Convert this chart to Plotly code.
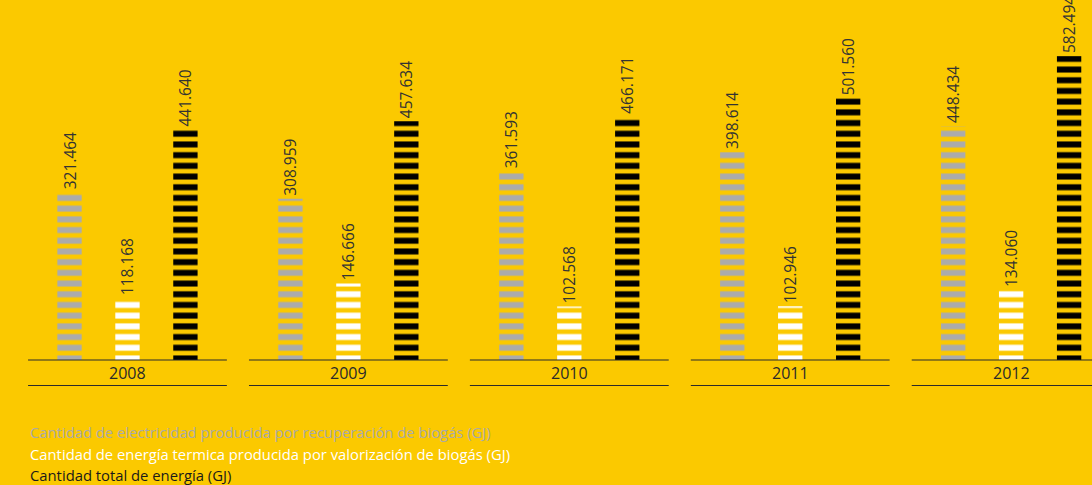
import plotly.graph_objects as go

years = ["2008", "2009", "2010", "2011", "2012"]
electricidad = [321464, 308959, 361593, 398614, 448434]
termica = [118168, 146666, 102568, 102946, 134060]
total = [441640, 457634, 466171, 501560, 582494]

legend_labels = [
    "Cantidad de electricidad producida por recuperación de biogás (GJ)",
    "Cantidad de energía termica producida por valorización de biogás (GJ)",
    "Cantidad total de energía (GJ)",
]

BG = "#FBC900"
W, H = 1092, 485
PLOT_H = 360

series = [
    (electricidad, "#ABABAB", legend_labels[0]),
    (termica, "#FFFFFF", legend_labels[1]),
    (total, "#000000", legend_labels[2]),
]

fig = go.Figure()
for vals, col, name in series:
    fig.add_trace(go.Bar(
        x=years, y=vals, name=name,
        marker=dict(
            color=BG,
            line=dict(width=0),
            pattern=dict(shape="-", fgcolor=col, bgcolor=BG, size=10.7,
                         solidity=0.56, fillmode="replace"),
        ),
        texttemplate="%{y:,.0f}",
        textposition="outside",
        textangle=-90,
        constraintext="none",
        cliponaxis=False,
        textfont=dict(family="Open Sans", size=15.5, color="#333333"),
        showlegend=False,
        hoverinfo="skip",
    ))

shapes = []
for i, _ in enumerate(years):
    for py in (360, 385.5):
        yp = 1 - py / PLOT_H
        shapes.append(dict(type="line", xref="x", yref="paper",
                           x0=i - 0.45, x1=i + 0.45, y0=yp, y1=yp,
                           line=dict(color="#2a2a2a", width=1)))

annotations = []
for i, y in enumerate(years):
    annotations.append(dict(x=i, y=1 - 373 / PLOT_H, xref="x", yref="paper", text=y,
                            showarrow=False, xanchor="center", yanchor="middle",
                            font=dict(family="Open Sans", size=16, color="#2a2a2a")))

leg_colors = ["#A9A9A9", "#FFFFFF", "#1A1A1A"]
leg_y = [432, 454, 475]
for lab, c, py in zip(legend_labels, leg_colors, leg_y):
    annotations.append(dict(x=28 / W, y=1 - py / PLOT_H, xref="paper", yref="paper",
                            text=lab, showarrow=False, xanchor="left", yanchor="middle",
                            font=dict(family="Open Sans", size=14.8, color=c)))

fig.update_layout(
    width=W, height=H,
    margin=dict(l=0, r=0, t=0, b=H - PLOT_H),
    paper_bgcolor=BG, plot_bgcolor=BG,
    barmode="group", bargap=0.213, bargroupgap=0.58,
    separators=",.",
    xaxis=dict(range=[-0.577, 4.366], showticklabels=False, showgrid=False,
               zeroline=False, showline=False, ticks=""),
    yaxis=dict(range=[0, 690000], visible=False, showgrid=False, zeroline=False),
    shapes=shapes,
    annotations=annotations,
)

fig.write_html("out.html", config={"displayModeBar": False},
               post_script="document.body.style.margin='0';document.body.style.overflow='hidden';")
